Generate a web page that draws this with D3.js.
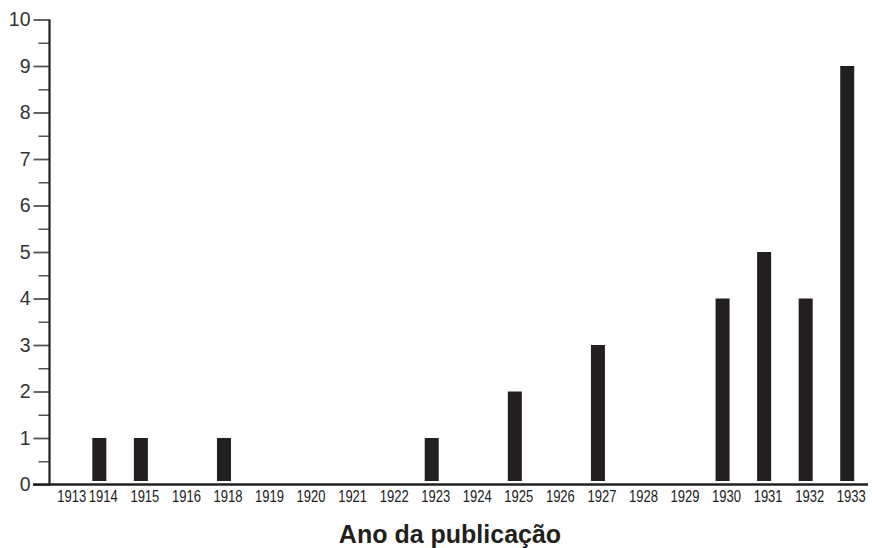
<!DOCTYPE html>
<html>
<head>
<meta charset="utf-8">
<script src="https://cdn.jsdelivr.net/npm/d3@7"></script>
<style>
  html, body { margin: 0; padding: 0; background: #fff; }
  svg { display: block; }
</style>
</head>
<body>
<svg id="chart" width="872" height="548"></svg>
<script>
const years = ["1913","1914","1915","1916","1918","1919","1920","1921","1922","1923","1924","1925","1926","1927","1928","1929","1930","1931","1932","1933"];
const counts = [0,1,1,0,1,0,0,0,0,1,0,2,0,3,0,0,4,5,4,9];
const yTicks = [0,1,2,3,4,5,6,7,8,9,10];
const xTitle = "Ano da publicação";

const svg = d3.select("#chart");
const axisX = 49.5, baseY = 484.5, topY = 19.5;

const x = d3.scaleBand().domain(years).range([37, 868]).paddingInner(0).paddingOuter(0);
const y = d3.scaleLinear().domain([0, 10]).range([baseY, topY]);

const ink = "#231f20";

// minor ticks
const minor = svg.append("g").attr("transform", `translate(${axisX},0)`)
  .call(d3.axisLeft(y).tickValues(d3.range(0.5, 10, 1)).tickSize(11).tickFormat(""));
minor.select(".domain").remove();
minor.selectAll("line").attr("stroke", "#555").attr("stroke-width", 1.5);

// major ticks
const major = svg.append("g").attr("transform", `translate(${axisX},0)`)
  .call(d3.axisLeft(y).tickValues(yTicks).tickSize(16).tickPadding(3).tickFormat(d3.format("d")));
major.select(".domain").remove();
major.selectAll("line").attr("stroke", "#555").attr("stroke-width", 1.8);
major.selectAll("text")
  .attr("font-family", "'Liberation Sans', Arial, Helvetica, sans-serif")
  .attr("font-size", 19.5)
  .attr("fill", "#333");

// bars
const barW = 14;
svg.append("g").selectAll("rect")
  .data(years.map((yr, i) => ({ yr, v: counts[i] })).filter(d => d.v > 0))
  .join("rect")
  .attr("x", d => x(d.yr) + x.bandwidth() / 2 - barW / 2)
  .attr("y", d => y(d.v))
  .attr("width", barW)
  .attr("height", d => y(0) - y(d.v) - 3.5)
  .attr("fill", ink);

// y axis line
svg.append("line")
  .attr("x1", axisX).attr("x2", axisX)
  .attr("y1", y(10)).attr("y2", y(0) + 1)
  .attr("stroke", ink).attr("stroke-width", 2.2);

// x axis
const xa = svg.append("g").attr("transform", `translate(0,${baseY})`)
  .call(d3.axisBottom(x).tickSize(0).tickPadding(0));
xa.select(".domain").remove();
xa.selectAll("text")
  .attr("font-family", "'Liberation Sans', Arial, Helvetica, sans-serif")
  .attr("font-size", 16.5)
  .attr("fill", "#222")
  .attr("y", 0).attr("dy", 0)
  .attr("transform", (d, i) => `translate(${i === 0 ? 14 : 4},17.5) scale(0.79,1)`);

svg.append("line")
  .attr("x1", 33).attr("x2", 868)
  .attr("y1", baseY).attr("y2", baseY)
  .attr("stroke", ink).attr("stroke-width", 2.6);

// title
svg.append("text")
  .attr("x", 450).attr("y", 543)
  .attr("text-anchor", "middle")
  .attr("font-family", "'Liberation Sans', Arial, Helvetica, sans-serif")
  .attr("font-weight", "bold")
  .attr("font-size", 25)
  .attr("fill", ink)
  .text(xTitle);
</script>
</body>
</html>
